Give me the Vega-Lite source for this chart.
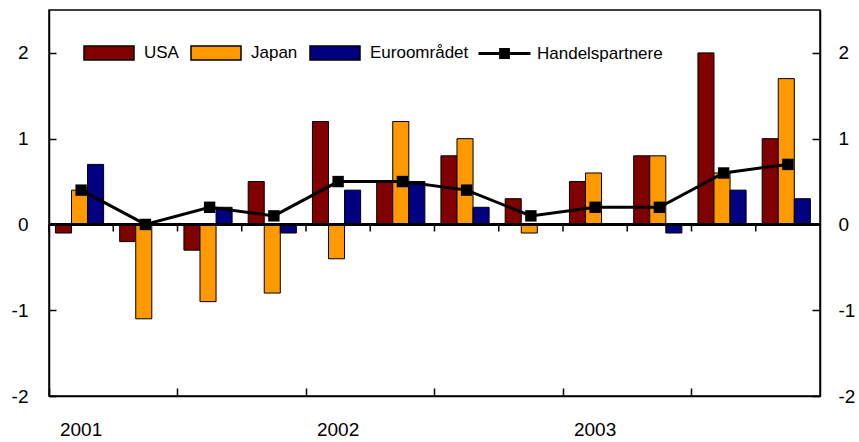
{
  "$schema": "https://vega.github.io/schema/vega-lite/v6.json",
  "width": 771,
  "height": 386,
  "autosize": {"type": "none"},
  "padding": {"left": 49, "top": 10, "right": 39, "bottom": 46},
  "background": "white",
  "datasets": {
    "bars": [
      {"q": "2001-1", "s": "USA", "v": -0.1}, {"q": "2001-1", "s": "Japan", "v": 0.4}, {"q": "2001-1", "s": "Euroområdet", "v": 0.7},
      {"q": "2001-2", "s": "USA", "v": -0.2}, {"q": "2001-2", "s": "Japan", "v": -1.1}, {"q": "2001-2", "s": "Euroområdet", "v": 0.0},
      {"q": "2001-3", "s": "USA", "v": -0.3}, {"q": "2001-3", "s": "Japan", "v": -0.9}, {"q": "2001-3", "s": "Euroområdet", "v": 0.2},
      {"q": "2001-4", "s": "USA", "v": 0.5}, {"q": "2001-4", "s": "Japan", "v": -0.8}, {"q": "2001-4", "s": "Euroområdet", "v": -0.1},
      {"q": "2002-1", "s": "USA", "v": 1.2}, {"q": "2002-1", "s": "Japan", "v": -0.4}, {"q": "2002-1", "s": "Euroområdet", "v": 0.4},
      {"q": "2002-2", "s": "USA", "v": 0.5}, {"q": "2002-2", "s": "Japan", "v": 1.2}, {"q": "2002-2", "s": "Euroområdet", "v": 0.5},
      {"q": "2002-3", "s": "USA", "v": 0.8}, {"q": "2002-3", "s": "Japan", "v": 1.0}, {"q": "2002-3", "s": "Euroområdet", "v": 0.2},
      {"q": "2002-4", "s": "USA", "v": 0.3}, {"q": "2002-4", "s": "Japan", "v": -0.1}, {"q": "2002-4", "s": "Euroområdet", "v": 0.0},
      {"q": "2003-1", "s": "USA", "v": 0.5}, {"q": "2003-1", "s": "Japan", "v": 0.6}, {"q": "2003-1", "s": "Euroområdet", "v": 0.0},
      {"q": "2003-2", "s": "USA", "v": 0.8}, {"q": "2003-2", "s": "Japan", "v": 0.8}, {"q": "2003-2", "s": "Euroområdet", "v": -0.1},
      {"q": "2003-3", "s": "USA", "v": 2.0}, {"q": "2003-3", "s": "Japan", "v": 0.6}, {"q": "2003-3", "s": "Euroområdet", "v": 0.4},
      {"q": "2003-4", "s": "USA", "v": 1.0}, {"q": "2003-4", "s": "Japan", "v": 1.7}, {"q": "2003-4", "s": "Euroområdet", "v": 0.3}
    ],
    "line": [
      {"q": "2001-1", "v": 0.4}, {"q": "2001-2", "v": 0.0}, {"q": "2001-3", "v": 0.2}, {"q": "2001-4", "v": 0.1},
      {"q": "2002-1", "v": 0.5}, {"q": "2002-2", "v": 0.5}, {"q": "2002-3", "v": 0.4}, {"q": "2002-4", "v": 0.1},
      {"q": "2003-1", "v": 0.2}, {"q": "2003-2", "v": 0.2}, {"q": "2003-3", "v": 0.6}, {"q": "2003-4", "v": 0.7}
    ]
  },
  "layer": [
    {
      "data": {"name": "bars"},
      "mark": {"type": "bar", "stroke": "black", "strokeWidth": 1},
      "encoding": {
        "x": {"field": "q", "type": "nominal", "sort": null, "axis": null,
              "scale": {"paddingInner": 0, "paddingOuter": 0}},
        "xOffset": {"field": "s", "type": "nominal", "sort": ["USA", "Japan", "Euroområdet"],
                    "scale": {"domain": ["USA", "Japan", "Euroområdet"], "paddingInner": 0, "paddingOuter": 0.5, "align": 0.4}},
        "y": {
          "field": "v", "type": "quantitative",
          "scale": {"domain": [-2, 2.5], "nice": false, "zero": false},
          "axis": {"orient": "left", "values": [-2, -1, 0, 1, 2], "labelExpr": "'' + datum.value", "tickSize": -7, "labelPadding": 28, "title": null, "domainWidth": 1.5}
        },
        "color": {
          "field": "s", "type": "nominal",
          "scale": {"domain": ["USA", "Japan", "Euroområdet"], "range": ["#800000", "#FF9900", "#000080"]},
          "legend": {
            "title": null, "orient": "none", "direction": "horizontal", "legendX": 34, "legendY": 17,
            "symbolType": "M-1,-0.28H1V0.28H-1Z", "symbolSize": 2500, "symbolStrokeColor": "black", "symbolStrokeWidth": 1.5,
            "labelFontSize": 17, "labelOffset": 9, "columnPadding": 9, "padding": 0
          }
        }
      }
    },
    {
      "data": {"name": "line"},
      "mark": {"type": "line", "strokeWidth": 3},
      "encoding": {
        "x": {
          "field": "q", "type": "nominal", "sort": null,
          "axis": {"orient": "bottom", "bandPosition": 0, "title": null,
                   "values": ["2001-1", "2001-3", "2002-1", "2002-3", "2003-1", "2003-3"],
                   "labelExpr": "split(datum.value, '-')[1] == '1' ? split(datum.value, '-')[0] : ''",
                   "labelOffset": 0, "labelAngle": 0, "labelFlush": false, "labelOverlap": false,
                   "tickSize": -8, "labelPadding": 32, "domainWidth": 1.5}
        },
        "y": {
          "field": "v", "type": "quantitative",
          "axis": {"orient": "right", "values": [-2, -1, 0, 1, 2], "labelExpr": "'' + datum.value", "tickSize": -8, "labelPadding": 26, "title": null, "domainWidth": 1.5}
        },
        "color": {
          "datum": "Handelspartnere",
          "scale": {"range": ["black"]},
          "legend": {
            "title": null, "orient": "none", "direction": "horizontal", "legendX": 428, "legendY": 16,
            "symbolType": "M-1,0H1M-0.15,-0.15H0.15V0.15H-0.15Z", "symbolSize": 2700,
            "symbolStrokeColor": "black", "symbolFillColor": "black", "symbolStrokeWidth": 3,
            "labelFontSize": 17, "labelOffset": 5, "padding": 0
          }
        }
      }
    },
    {
      "data": {"name": "line"},
      "mark": {"type": "point", "shape": "square", "filled": true, "size": 130, "color": "black", "opacity": 1},
      "encoding": {
        "x": {"field": "q", "type": "nominal", "sort": null, "axis": null},
        "y": {"field": "v", "type": "quantitative", "axis": null}
      }
    },
    {
      "data": {"name": "line"},
      "mark": {"type": "rule", "color": "black", "strokeWidth": 2, "opacity": 1},
      "encoding": {
        "y": {"datum": 0, "type": "quantitative", "axis": null}
      }
    },
    {
      "data": {"name": "line"},
      "mark": {"type": "tick", "orient": "vertical", "color": "black", "thickness": 1.5, "size": 7, "yOffset": 3.5, "opacity": 1},
      "encoding": {
        "x": {"field": "q", "type": "nominal", "sort": null, "bandPosition": 0, "axis": null},
        "y": {"datum": 0, "type": "quantitative", "axis": null}
      }
    }
  ],
  "resolve": {"scale": {"color": "independent"}, "axis": {"x": "independent", "y": "independent"}},
  "config": {
    "font": "Liberation Sans",
    "view": {"stroke": "black", "strokeWidth": 1.5},
    "axis": {
      "grid": false, "domainColor": "black", "tickColor": "black", "labelColor": "black",
      "labelFontSize": 19, "labelFont": "Liberation Sans", "tickWidth": 1.5
    },
    "legend": {"labelFont": "Liberation Sans", "labelColor": "black"}
  }
}
